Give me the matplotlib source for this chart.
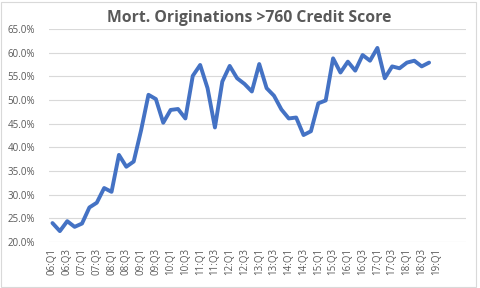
import matplotlib
matplotlib.use("Agg")
import matplotlib.pyplot as plt
from matplotlib.patches import Rectangle
import numpy as np

title = "Mort. Originations >760 Credit Score"

years = list(range(6, 20))
quarters = [f"{y:02d}:Q{q}" for y in years for q in range(1, 5)][:53]  # 06:Q1 .. 19:Q1

values = [24.0, 22.3, 24.4, 23.2, 23.9, 27.3, 28.3, 31.4, 30.6, 38.4,
          35.9, 37.0, 43.6, 51.1, 50.2, 45.2, 47.9, 48.1, 46.1, 55.1,
          57.4, 52.5, 44.2, 53.9, 57.2, 54.6, 53.4, 51.8, 57.6, 52.5,
          50.9, 48.0, 46.1, 46.3, 42.6, 43.4, 49.3, 49.9, 58.8, 55.8,
          58.1, 56.2, 59.5, 58.3, 61.0, 54.6, 57.1, 56.7, 57.9, 58.3,
          57.1, 57.9]

yticks = [20, 25, 30, 35, 40, 45, 50, 55, 60, 65]

W, H = 480, 288
fig = plt.figure(figsize=(W / 100, H / 100), dpi=100)
fig.patch.set_facecolor("white")

# frame border
fig.add_artist(Rectangle((0.5 / W, 1.5 / H), 475 / W, 285 / H, transform=fig.transFigure,
                         fill=False, edgecolor="#d9d9d9", linewidth=0.8))

left, right = 49, 466
top, bottom = 29, 242
ax = fig.add_axes([left / W, 1 - bottom / H, (right - left) / W, (bottom - top) / H])

x = np.arange(len(values))
ax.plot(x, values, color="#4472C4", linewidth=2.8, solid_joinstyle="round",
        solid_capstyle="round", zorder=3)

ax.set_ylim(20, 65)
ax.set_xlim(-0.47, 56.0)
ax.set_yticks(yticks)
ax.set_yticklabels([f"{v:.1f}%" for v in yticks])
xt = list(range(0, len(quarters), 2))
ax.set_xticks(xt)
ax.set_xticklabels([quarters[i] for i in xt], rotation=90)

ax.grid(axis="y", color="#d9d9d9", linewidth=0.8)
ax.set_axisbelow(True)
for s in ax.spines.values():
    s.set_visible(False)
ax.tick_params(axis="both", length=0, colors="#595959", labelsize=7)
ax.tick_params(axis="y", pad=10)
ax.tick_params(axis="x", pad=4)
for lab in ax.get_xticklabels() + ax.get_yticklabels():
    lab.set_fontfamily("Open Sans")

fig.text(249 / W, 1 - 18 / H, title, ha="center", va="center", fontsize=11.3,
         fontweight="bold", color="#595959", family="Open Sans")

fig.savefig("out.png", dpi=100, facecolor="white")
